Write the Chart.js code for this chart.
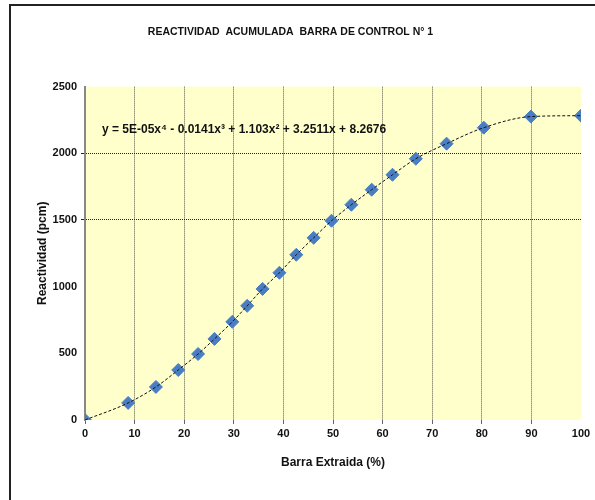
<!DOCTYPE html>
<html>
<head>
<meta charset="utf-8">
<script src="https://cdn.jsdelivr.net/npm/chart.js@4.4.1/dist/chart.umd.min.js"></script>
<style>
  html, body { margin: 0; padding: 0; background: #fff; }
  #wrap { width: 595px; height: 500px; position: relative; }
</style>
</head>
<body>
<div id="wrap"><canvas id="myChart" width="595" height="500"></canvas></div>
<script>
// barra extraida (%) y reactividad acumulada (pcm)
const barra = [0, 8.7, 14.3, 18.8, 22.8, 26.1, 29.7, 32.7, 35.8, 39.2, 42.6, 46.1, 49.7, 53.7, 57.8, 62.0, 66.7, 72.9, 80.4, 89.9, 100];
const reactividad = [0, 128, 248, 375, 495, 608, 736, 856, 983, 1104, 1239, 1366, 1494, 1614, 1727, 1839, 1959, 2072, 2192, 2275, 2282];
const xTicks = [0, 10, 20, 30, 40, 50, 60, 70, 80, 90, 100];
const yTicks = [0, 500, 1000, 1500, 2000, 2500];
const lineasY = [1500, 2000];
const ecuacion = 'y = 5E-05x\u2074 - 0.0141x\u00b3 + 1.103x\u00b2 + 3.2511x + 8.2676';

const puntos = barra.map((x, i) => ({ x: x, y: reactividad[i] }));
const fuente = '"Liberation Sans", Arial, sans-serif';

const fondo = {
    id: 'fondo',
    beforeDraw(chart) {
        const { ctx, chartArea: a } = chart;
        ctx.save();
        ctx.fillStyle = '#ffffcc';
        ctx.fillRect(a.left, a.top, a.right - a.left, a.bottom - a.top);
        // marco exterior
        ctx.strokeStyle = '#222';
        ctx.lineWidth = 2;
        ctx.beginPath();
        ctx.moveTo(10, 500);
        ctx.lineTo(10, 5);
        ctx.lineTo(595, 5);
        ctx.stroke();
        ctx.restore();
    },
    afterDraw(chart) {
        const ctx = chart.ctx;
        ctx.save();
        ctx.font = 'bold 12px ' + fuente;
        ctx.fillStyle = '#111';
        ctx.textBaseline = 'middle';
        ctx.fillText(ecuacion, 102, 130);
        ctx.restore();
    }
};

const ctx = document.getElementById('myChart');

new Chart(ctx, {
    type: 'scatter',
    data: {
        datasets: [{
            label: 'Tendencia',
            data: puntos,
            showLine: true,
            cubicInterpolationMode: 'monotone',
            borderColor: '#111',
            borderWidth: 1,
            borderDash: [3, 2],
            pointRadius: 0,
            fill: false
        }, {
            label: 'Reactividad',
            data: puntos,
            pointStyle: 'rectRot',
            pointRadius: 6.5,
            backgroundColor: '#4a7ec4',
            borderColor: '#4a7ec4',
            borderWidth: 1
        }]
    },
    options: {
        responsive: false,
        animation: false,
        layout: { padding: { left: 0, right: 14, top: 0, bottom: 0 } },
        plugins: {
            legend: { display: false },
            tooltip: { enabled: false },
            title: {
                display: true,
                text: 'REACTIVIDAD  ACUMULADA  BARRA DE CONTROL N\u00b0 1',
                color: '#111',
                font: { family: fuente, size: 10.5, weight: 'bold' },
                padding: { top: 26, bottom: 48 }
            }
        },
        scales: {
            x: {
                type: 'linear',
                min: 0,
                max: 100,
                afterBuildTicks: s => { s.ticks = xTicks.map(v => ({ value: v })); },
                afterFit: s => { s.height = 80; },
                ticks: {
                    color: '#111',
                    padding: 3,
                    callback: v => String(v),
                    font: { family: fuente, size: 11, weight: 'bold' }
                },
                grid: {
                    color: c => (c.tick && (c.tick.value === 0 || c.tick.value === 100)) ? 'rgba(0,0,0,0)' : '#555',
                    lineWidth: 1,
                    tickLength: 4,
                    tickColor: c => (c.tick && c.tick.value === 100) ? 'rgba(0,0,0,0)' : '#666'
                },
                border: { display: false, dash: [1, 1] },
                title: {
                    display: true,
                    text: 'Barra Extraida (%)',
                    color: '#111',
                    font: { family: fuente, size: 12, weight: 'bold' },
                    padding: { top: 0, bottom: 30 }
                }
            },
            y: {
                type: 'linear',
                min: 0,
                max: 2500,
                afterBuildTicks: s => { s.ticks = yTicks.map(v => ({ value: v })); },
                afterFit: s => { s.width = 85; },
                ticks: {
                    color: '#111',
                    padding: 4,
                    callback: v => String(v),
                    font: { family: fuente, size: 11, weight: 'bold' }
                },
                grid: {
                    color: c => (c.tick && lineasY.includes(c.tick.value)) ? '#222' : 'rgba(0,0,0,0)',
                    lineWidth: 1,
                    tickLength: 4
                },
                border: { display: true, color: '#888', width: 2, dash: [1, 1] },
                title: {
                    display: true,
                    text: 'Reactividad (pcm)',
                    color: '#111',
                    font: { family: fuente, size: 12, weight: 'bold' },
                    padding: { top: 35, bottom: 0 }
                }
            }
        }
    },
    plugins: [fondo]
});
</script>
</body>
</html>
